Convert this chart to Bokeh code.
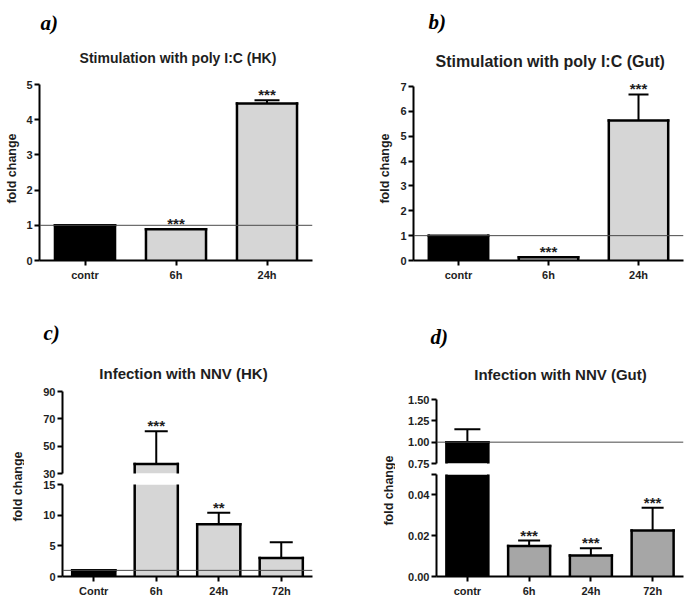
import math
from bokeh.plotting import figure
from bokeh.models import (FactorRange, Range1d, Whisker, TeeHead, Span, Label, LabelSet,
                          ColumnDataSource, FixedTicker, NumeralTickFormatter)
from bokeh.transform import dodge
from bokeh.layouts import row, column
from bokeh.embed import file_html
from bokeh.resources import INLINE
from bokeh.core.properties import value

# ---------------- data ----------------
a_cats = ["contr", "6h", "24h"]
a_vals = [1.0, 0.89, 4.46]
a_err = [1.0, 0.89, 4.55]
a_sig = ["", "***", "***"]
a_ticks = [0, 1, 2, 3, 4, 5]

b_cats = ["contr", "6h", "24h"]
b_vals = [1.0, 0.13, 5.63]
b_err = [1.0, 0.13, 6.68]
b_sig = ["", "***", "***"]
b_ticks = [0, 1, 2, 3, 4, 5, 6, 7]

c_cats = ["Contr", "6h", "24h", "72h"]
c_vals = [1.0, 37.0, 8.5, 3.0]
c_err = [1.0, 61.0, 10.4, 5.6]
c_sig = ["", "***", "**", ""]
c_ticks_up = [30, 50, 70, 90]
c_ticks_low = [0, 5, 10, 15]

d_cats = ["contr", "6h", "24h", "72h"]
d_vals = [1.0, 0.0149, 0.0103, 0.0225]
d_err = [1.15, 0.0176, 0.0139, 0.0337]
d_sig = ["", "***", "***", "***"]
d_ticks_up = [0.75, 1.00, 1.25, 1.50]
d_ticks_low = [0.00, 0.02, 0.04, 0.05]

baseline_level = 1.0

# ---------------- styling ----------------
FONT = "Liberation Sans"
SERIF = "Liberation Serif"
INK = "#1e1e1e"
LIGHT = "#d6d6d6"
MID = "#a6a6a6"


def make_fig(cats, vals, err, sig, fill, y0, y1, ticks, width, height, borders,
             y_end=None, show_x=True, fmt=None, ylabel=None, ylabel_standoff=5,
             hide_labels=(), bar_width=0.66, cap=24):
    """y0..y1 is the drawn (bounded) axis segment; y_end extends the frame above it."""
    l, r, t, b = borders
    top_end = y1 if y_end is None else y_end
    p = figure(x_range=FactorRange(*cats), y_range=Range1d(y0, top_end),
               width=width, height=height, output_backend="svg", toolbar_location=None,
               min_border_left=l, min_border_right=r, min_border_top=t, min_border_bottom=b,
               x_axis_location="below" if show_x else None)
    p.x_range.range_padding = 0
    p.grid.visible = False
    p.outline_line_color = None
    p.background_fill_color = "white"
    p.border_fill_color = "white"

    # bars: fill + outline drawn as segments so that a bar cut by the axis break
    # shows no edge at the cut
    keep = [i for i in range(len(cats)) if vals[i] > y0]
    hw = bar_width / 2
    src = ColumnDataSource(dict(x=[cats[i] for i in keep], top=[vals[i] for i in keep],
                                color=["black" if i == 0 else fill for i in keep]))
    p.vbar(x="x", top="top", bottom=0, width=bar_width, fill_color="color",
           line_color=None, source=src)
    for off in (-hw, hw):
        p.segment(x0=dodge("x", off, range=p.x_range), y0=0,
                  x1=dodge("x", off, range=p.x_range), y1="top", source=src,
                  line_color="black", line_width=2.5, line_cap="square")
    tops = [i for i in keep if vals[i] <= top_end]
    if tops:
        tsrc = ColumnDataSource(dict(x=[cats[i] for i in tops], top=[vals[i] for i in tops]))
        p.segment(x0=dodge("x", -hw, range=p.x_range), y0="top",
                  x1=dodge("x", hw, range=p.x_range), y1="top", source=tsrc,
                  line_color="black", line_width=2.5, line_cap="square")

    # error bars (only those that lie in this figure's range)
    idx = [i for i in range(len(cats)) if err[i] > vals[i] and y0 <= vals[i] and err[i] <= top_end]
    if idx:
        esrc = ColumnDataSource(dict(x=[cats[i] for i in idx], lo=[vals[i] for i in idx],
                                     hi=[err[i] for i in idx]))
        p.add_layout(Whisker(base="x", lower="lo", upper="hi", source=esrc, dimension="height",
                             line_width=2, line_color="black",
                             upper_head=TeeHead(size=cap, line_width=2, line_color="black"),
                             lower_head=None))

    sidx = [i for i in range(len(cats)) if sig[i] and y0 <= max(err[i], vals[i]) <= top_end]
    if sidx:
        ssrc = ColumnDataSource(dict(x=[cats[i] for i in sidx],
                                     y=[max(err[i], vals[i]) for i in sidx],
                                     t=[sig[i] for i in sidx]))
        p.add_layout(LabelSet(x="x", y="y", text="t", source=ssrc, text_align="center",
                              text_baseline="alphabetic", y_offset=0,
                              text_font=value(FONT), text_font_size=value("15px"),
                              text_font_style=value("bold"), text_color=INK))

    if y0 <= baseline_level <= top_end:
        p.add_layout(Span(location=baseline_level, dimension="width",
                          line_color="#4a4a4a", line_width=1))

    yax = p.yaxis[0]
    yax.ticker = FixedTicker(ticks=ticks)
    yax.bounds = (y0, y1)
    if fmt:
        yax.formatter = NumeralTickFormatter(format=fmt)
    if hide_labels:
        yax.major_label_overrides = {v: "" for v in hide_labels}
    yax.axis_line_width = 2
    yax.axis_line_color = "black"
    yax.major_tick_line_width = 2
    yax.major_tick_out = 5
    yax.major_tick_in = 0
    yax.minor_tick_line_color = None
    yax.major_label_standoff = 2
    yax.major_label_text_font = FONT
    yax.major_label_text_font_size = "11px"
    yax.major_label_text_font_style = "bold"
    yax.major_label_text_color = INK
    if ylabel:
        yax.axis_label = ylabel
        yax.axis_label_text_font = FONT
        yax.axis_label_text_font_size = "12.5px"
        yax.axis_label_text_font_style = "bold"
        yax.axis_label_text_color = INK
        yax.axis_label_standoff = ylabel_standoff

    if show_x:
        xax = p.xaxis[0]
        xax.axis_line_width = 2
        xax.axis_line_color = "black"
        xax.major_tick_line_width = 2
        xax.major_tick_out = 5
        xax.major_tick_in = 0
        xax.minor_tick_line_color = None
        xax.major_label_standoff = 3
        xax.major_label_text_font = FONT
        xax.major_label_text_font_size = "11px"
        xax.major_label_text_font_style = "bold"
        xax.major_label_text_color = INK
    return p


def blank(width, height, left=0, right=0):
    p = figure(width=width, height=height, x_range=Range1d(0, 1), y_range=Range1d(0, 1),
               output_backend="svg", toolbar_location=None, min_border=0,
               min_border_left=left, min_border_right=right,
               x_axis_location=None, y_axis_location=None)
    p.grid.visible = False
    p.outline_line_color = None
    return p


def header(width, height, left, right, letter, lx, ly, title, tx, ty, tsize):
    # positions are given relative to the figure; converted to frame-relative
    p = blank(width, height, left, right)
    p.add_layout(Label(x=lx - left, y=ly, x_units="screen", y_units="screen", text=letter,
                       text_font=SERIF, text_font_size="21px", text_font_style="bold italic",
                       text_color="black", text_align="left", text_baseline="alphabetic"))
    p.add_layout(Label(x=tx - left, y=ty, x_units="screen", y_units="screen", text=title,
                       text_font=FONT, text_font_size=tsize, text_font_style="bold",
                       text_color=INK, text_align="center", text_baseline="alphabetic"))
    return p


def side_label(width, height, sx, sy):
    p = blank(width, height)
    p.add_layout(Label(x=sx, y=sy, x_units="screen", y_units="screen", text="fold change",
                       angle=math.pi / 2, text_font=FONT, text_font_size="12.5px",
                       text_font_style="bold", text_color=INK,
                       text_align="center", text_baseline="middle"))
    return p


# ---------------- panel a ----------------
a_head = header(350, 70, 39, 38, "a)", 40, 48, "Stimulation with poly I:C (HK)", 177.5, 13, "14px")
pa = make_fig(a_cats, a_vals, a_err, a_sig, LIGHT, 0, 5, a_ticks, 350, 230,
              (39, 38, 6, 40), y_end=5 + 8 * 5 / 176, ylabel="fold change",
              ylabel_standoff=4, cap=25)

# ---------------- panel b ----------------
b_head = header(347, 70, 63, 14, "b)", 78, 49, "Stimulation with poly I:C (Gut)", 199.7, 9.5, "16px")
pb = make_fig(b_cats, b_vals, b_err, b_sig, LIGHT, 0, 7, b_ticks, 347, 230,
              (63, 14, 6, 40), y_end=7 + 10 * 7 / 174, ylabel="fold change",
              ylabel_standoff=5, cap=20)

# ---------------- panel c (broken axis) ----------------
c_head = header(350, 86, 0, 0, "c)", 43, 54, "Infection with NNV (HK)", 183, 13, "15px")
c_lab = side_label(24, 214, 17, 114)
pc_up = make_fig(c_cats, c_vals, c_err, c_sig, LIGHT, 30, 90, c_ticks_up, 326, 92,
                 (38, 38, 0, 5), y_end=90 + 5 * 60 / 82, show_x=False,
                 bar_width=0.69, cap=23)
pc_lo = make_fig(c_cats, c_vals, c_err, c_sig, LIGHT, 0, 15, c_ticks_low, 326, 122,
                 (38, 38, 6, 24), bar_width=0.69, cap=23)

# ---------------- panel d (broken axis) ----------------
d_head = header(347, 86, 0, 0, "d)", 80, 50, "Infection with NNV (Gut)", 210, 12, "15px")
d_lab = side_label(45, 214, 38, 110)
pd_up = make_fig(d_cats, d_vals, d_err, d_sig, MID, 0.75, 1.5, d_ticks_up, 302, 82,
                 (41, 14, 0, 5), y_end=1.5 + 13 * 0.75 / 64, show_x=False, fmt="0.00",
                 bar_width=0.68, cap=26)
pd_lo = make_fig(d_cats, d_vals, d_err, d_sig, MID, 0.0, 0.05, d_ticks_low, 302, 132,
                 (41, 14, 6, 24), fmt="0.00", hide_labels=(0.05,), bar_width=0.68, cap=22)

layout = column(
    row(column(a_head, pa), column(b_head, pb)),
    row(column(c_head, row(c_lab, column(pc_up, pc_lo))),
        column(d_head, row(d_lab, column(pd_up, pd_lo)))),
)

open("out.html", "w").write(file_html(layout, INLINE))
